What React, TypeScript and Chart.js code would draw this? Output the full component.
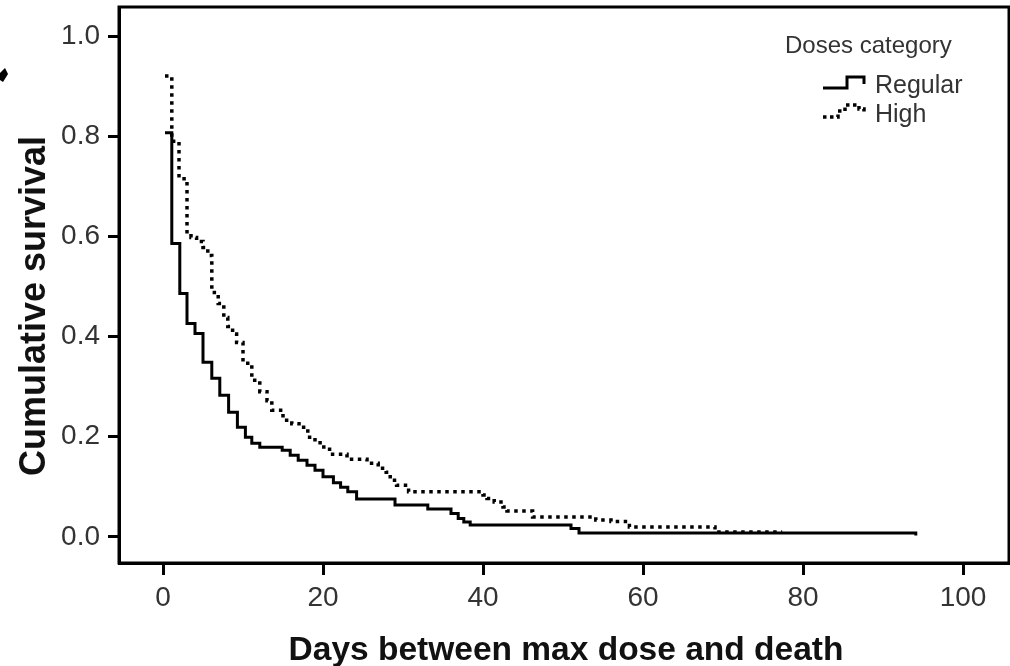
import React, { useEffect, useRef } from "react";
import { Chart, registerables } from "chart.js";

Chart.register(...registerables);

const xTickValues = [0, 20, 40, 60, 80, 100];
const yTickValues = [0, 0.2, 0.4, 0.6, 0.8, 1.0];

const xTitle = "Days between max dose and death";
const yTitle = "Cumulative survival";
const legendTitle = "Doses category";
const seriesNames = ["Regular", "High"];

const regularDays = [0.25, 1.1, 2.1, 3.0, 4.0, 5.0, 6.1, 7.1, 8.2, 9.3, 10.3, 11.1, 12.1, 14.9, 15.9, 16.9, 18.0, 19.0, 20.0, 21.3, 22.2, 23.1, 24.2, 29.0, 33.1, 36.0, 36.9, 37.6, 38.4, 51.0, 52.0, 94.1, 94.1];
const regularSurvival = [0.807, 0.586, 0.486, 0.426, 0.406, 0.349, 0.317, 0.283, 0.249, 0.219, 0.199, 0.187, 0.179, 0.173, 0.163, 0.153, 0.143, 0.133, 0.12, 0.108, 0.099, 0.09, 0.076, 0.064, 0.056, 0.047, 0.037, 0.03, 0.024, 0.017, 0.008, 0.008, 0.003];

const highDays = [0.25, 1.1, 2.0, 3.0, 3.5, 4.2, 5.0, 5.6, 6.1, 6.9, 7.6, 8.1, 8.7, 9.2, 10.0, 11.1, 12.1, 13.0, 13.6, 15.0, 16.1, 17.0, 18.1, 19.0, 20.1, 21.2, 23.0, 25.5, 26.9, 27.9, 28.4, 29.2, 30.7, 40.0, 40.5, 41.4, 42.5, 43.0, 46.2, 54.1, 56.0, 58.3, 69.0, 77.4];
const highSurvival = [0.92, 0.79, 0.715, 0.605, 0.598, 0.59, 0.578, 0.562, 0.488, 0.466, 0.438, 0.42, 0.405, 0.388, 0.347, 0.313, 0.29, 0.272, 0.253, 0.233, 0.226, 0.219, 0.199, 0.188, 0.175, 0.165, 0.155, 0.147, 0.137, 0.129, 0.113, 0.103, 0.09, 0.084, 0.077, 0.07, 0.06, 0.052, 0.04, 0.034, 0.031, 0.02, 0.01, 0.01];

const FONT = '"Liberation Sans", Arial, Helvetica, sans-serif';

const decorPlugin = {
  id: "decor",
  afterDraw(chart: any) {
    const ctx = chart.ctx as CanvasRenderingContext2D;
    const { left, top, right, bottom } = chart.chartArea;
    ctx.save();
    // frame
    ctx.strokeStyle = "#000";
    ctx.lineWidth = 3;
    ctx.setLineDash([]);
    ctx.strokeRect(left, top, right - left, bottom - top);

    // axis titles
    ctx.fillStyle = "#111";
    ctx.textBaseline = "alphabetic";
    ctx.textAlign = "center";
    ctx.font = `bold 33.5px ${FONT}`;
    ctx.fillText(xTitle, 566, 660);
    ctx.save();
    ctx.translate(45, 306);
    ctx.rotate(-Math.PI / 2);
    ctx.font = `bold 36px ${FONT}`;
    ctx.fillText(yTitle, 0, 0);
    ctx.restore();

    // legend
    ctx.textAlign = "left";
    ctx.fillStyle = "#333";
    ctx.font = `24px ${FONT}`;
    ctx.fillText(legendTitle, 785, 53);
    ctx.font = `25px ${FONT}`;
    ctx.fillText(seriesNames[0], 875, 93);
    ctx.fillText(seriesNames[1], 875, 122);

    ctx.strokeStyle = "#000";
    ctx.lineWidth = 3;
    ctx.beginPath();
    ctx.moveTo(823, 88);
    ctx.lineTo(847, 88);
    ctx.lineTo(847, 77);
    ctx.lineTo(864, 77);
    ctx.lineTo(864, 84);
    ctx.stroke();

    ctx.lineWidth = 3.5;
    ctx.setLineDash([3.5, 3.5]);
    ctx.beginPath();
    ctx.moveTo(823, 117);
    ctx.lineTo(838, 117);
    ctx.lineTo(838, 111);
    ctx.lineTo(845, 111);
    ctx.lineTo(845, 105);
    ctx.lineTo(859, 105);
    ctx.lineTo(859, 109);
    ctx.lineTo(864, 109);
    ctx.lineTo(864, 114);
    ctx.stroke();
    ctx.setLineDash([]);

    // small mark at top-left edge
    ctx.fillStyle = "#000";
    ctx.beginPath();
    ctx.moveTo(0, 73);
    ctx.lineTo(5, 68);
    ctx.lineTo(8, 74);
    ctx.lineTo(3, 82);
    ctx.lineTo(0, 80);
    ctx.closePath();
    ctx.fill();
    ctx.restore();
  },
};

export default function App() {
  const ref = useRef<HTMLCanvasElement | null>(null);

  useEffect(() => {
    document.body.style.margin = "0";
    const canvas = ref.current;
    if (!canvas) return;
    const toPoints = (xs: number[], ys: number[]) => xs.map((x, i) => ({ x, y: ys[i] }));
    const chart = new Chart(canvas, {
      type: "line",
      data: {
        datasets: [
          {
            label: seriesNames[0],
            data: toPoints(regularDays, regularSurvival),
            borderColor: "#000",
            borderWidth: 3,
            pointRadius: 0,
            stepped: "before",
            fill: false,
          },
          {
            label: seriesNames[1],
            data: toPoints(highDays, highSurvival),
            borderColor: "#000",
            borderWidth: 3.5,
            borderDash: [3.5, 4.5],
            pointRadius: 0,
            stepped: "before",
            fill: false,
          },
        ],
      },
      options: {
        animation: false,
        responsive: false,
        devicePixelRatio: 1,
        layout: { padding: { top: 7, right: 1, left: 0, bottom: 0 } },
        plugins: {
          legend: { display: false },
          tooltip: { enabled: false },
        },
        scales: {
          x: {
            type: "linear",
            min: -5.5,
            max: 105.75,
            afterBuildTicks: (scale: any) => {
              scale.ticks = xTickValues.map((v) => ({ value: v }));
            },
            afterFit: (scale: any) => {
              scale.height = 103;
              scale.paddingLeft = 0;
              scale.paddingRight = 0;
            },
            grid: {
              drawOnChartArea: false,
              drawTicks: true,
              tickLength: 12,
              tickWidth: 3,
              tickColor: "#000",
            },
            border: { display: true, color: "#000", width: 3 },
            ticks: {
              padding: 6,
              color: "#333",
              font: { family: FONT, size: 28 },
              maxRotation: 0,
              callback: (v: any) => String(v),
            },
          },
          y: {
            type: "linear",
            min: -0.052,
            max: 1.058,
            afterBuildTicks: (scale: any) => {
              scale.ticks = yTickValues.map((v) => ({ value: v }));
            },
            afterFit: (scale: any) => {
              scale.width = 119;
              scale.paddingTop = 0;
              scale.paddingBottom = 0;
            },
            grid: {
              drawOnChartArea: false,
              drawTicks: true,
              tickLength: 11,
              tickWidth: 3,
              tickColor: "#000",
            },
            border: { display: true, color: "#000", width: 3 },
            ticks: {
              padding: 8,
              color: "#333",
              font: { family: FONT, size: 28 },
              callback: (v: any) => Number(v).toFixed(1),
            },
          },
        },
      },
      plugins: [decorPlugin],
    });
    return () => chart.destroy();
  }, []);

  return (
    <div style={{ width: 1010, height: 666 }}>
      <canvas ref={ref} width={1010} height={666} style={{ display: "block" }} />
    </div>
  );
}
